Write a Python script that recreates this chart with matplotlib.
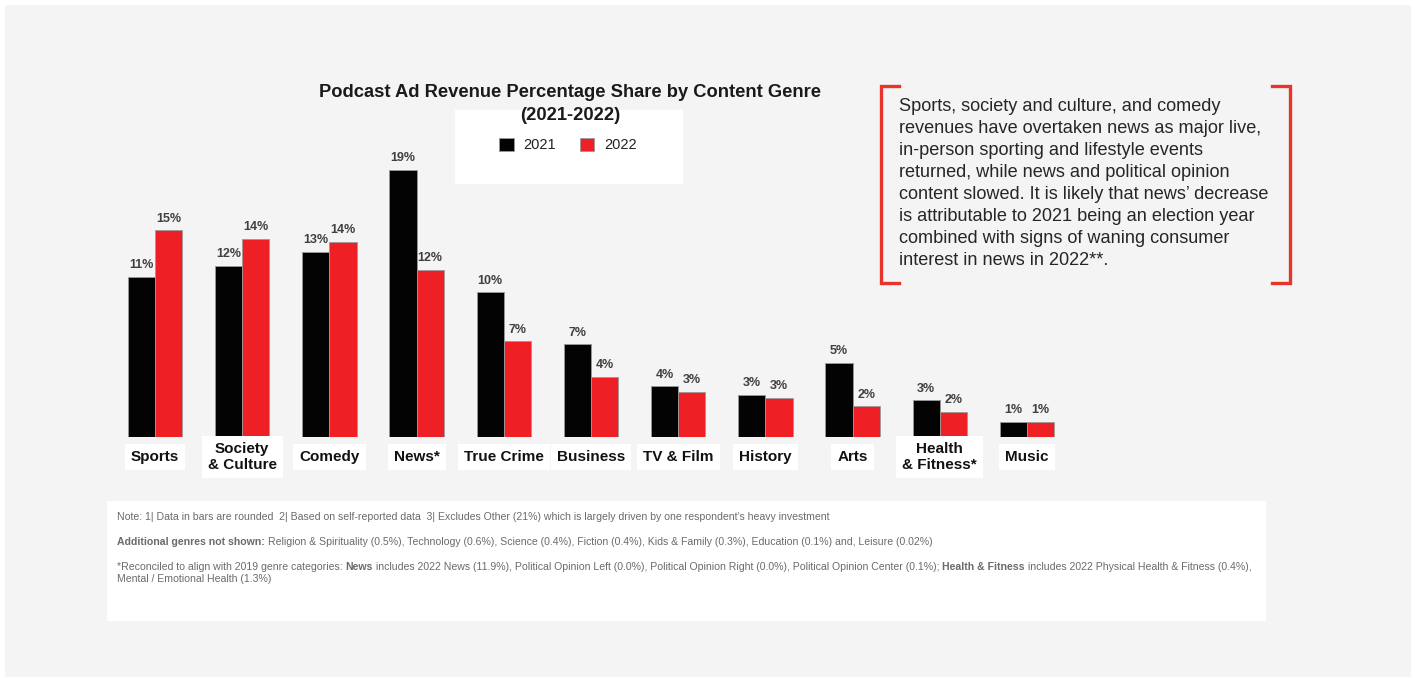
import matplotlib.pyplot as plt
from matplotlib.patches import Rectangle, Patch
from matplotlib.lines import Line2D

plt.rcParams["font.family"] = ["Liberation Sans", "DejaVu Sans"]

# ---------------------------------------------------------------------------
genres = ["Sports", "Society\n& Culture", "Comedy", "News*", "True Crime",
          "Business", "TV & Film", "History", "Arts", "Health\n& Fitness*", "Music"]
share_2021 = [11.4, 12.2, 13.2, 19.0, 10.3, 6.6, 3.6, 3.0, 5.3, 2.6, 1.1]
share_2022 = [14.7, 14.1, 13.9, 11.9, 6.8, 4.3, 3.2, 2.8, 2.2, 1.8, 1.1]
years = ["2021", "2022"]

TITLE = "Podcast Ad Revenue Percentage Share by Content Genre\n(2021-2022)"
CALLOUT = ("Sports, society and culture, and comedy\n"
           "revenues have overtaken news as major live,\n"
           "in-person sporting and lifestyle events\n"
           "returned, while news and political opinion\n"
           "content slowed. It is likely that news\u2019 decrease\n"
           "is attributable to 2021 being an election year\n"
           "combined with signs of waning consumer\n"
           "interest in news in 2022**.")
NOTES = [
    [("Note: 1| Data in bars are rounded  2| Based on self-reported data  3| Excludes Other (21%) "
      "which is largely driven by one respondent\u2019s heavy investment", "normal")],
    [("Additional genres not shown: ", "bold"),
     ("Religion & Spirituality (0.5%), Technology (0.6%), Science (0.4%), Fiction (0.4%), "
      "Kids & Family (0.3%), Education (0.1%) and, Leisure (0.02%)", "normal")],
    [("*Reconciled to align with 2019 genre categories: ", "normal"), ("News", "bold"),
     (" includes 2022 News (11.9%), Political Opinion Left (0.0%), Political Opinion Right (0.0%), "
      "Political Opinion Center (0.1%); ", "normal"), ("Health & Fitness", "bold"),
     (" includes 2022 Physical Health & Fitness (0.4%),", "normal")],
    [("Mental / Emotional Health (1.3%)", "normal")],
]
# ---------------------------------------------------------------------------

W, H = 1415, 678
BLACK, RED = "#030303", "#ee1f25"


def px(x, y):
    """pixel position (from top-left) -> figure fraction"""
    return x / W, 1 - y / H


fig = plt.figure(figsize=(W / 100, H / 100), dpi=100)
fig.patch.set_facecolor("white")
fig.patches.append(Rectangle(px(5, 677), 1406 / W, 672 / H, transform=fig.transFigure,
                             facecolor="#f4f4f4", edgecolor="none", zorder=-2))

# bar axes: x from 100 to 1060 px, baseline at 437 px
ax = fig.add_axes([100 / W, (H - 437) / H, 960 / W, 297 / H])
ax.set_facecolor("none")
ax.set_zorder(2)
step, ppu = 87.2, 14.05
ax.set_xlim((100 - 155) / step, (1060 - 155) / step)
ax.set_ylim(0, 297 / ppu)
ax.axis("off")

bw = 0.313
idx = list(range(len(genres)))
b1 = ax.bar([i - bw / 2 for i in idx], share_2021, bw, color=BLACK,
            edgecolor="#9a9a9a", linewidth=0.6, label=years[0])
b2 = ax.bar([i + bw / 2 for i in idx], share_2022, bw, color=RED,
            edgecolor="#9a9a9a", linewidth=0.6, label=years[1])

for bars, vals in ((b1, share_2021), (b2, share_2022)):
    for rect, v in zip(bars, vals):
        ax.annotate(f"{v:.0f}%", (rect.get_x() + rect.get_width() / 2, v),
                    xytext=(0, 4), textcoords="offset points", ha="center", va="bottom",
                    fontsize=9, fontweight="bold", color="#404040")

for i, g in enumerate(genres):
    ax.text(i, -1.42, g, ha="center", va="center", fontsize=11, fontweight="bold",
            color="#111111", linespacing=1.2, clip_on=False,
            bbox=dict(boxstyle="square,pad=0.4", facecolor="white", edgecolor="none"))

# title + legend panel
fig.patches.append(Rectangle(px(455, 184), 228 / W, 74 / H, transform=fig.transFigure,
                             facecolor="white", edgecolor="none", zorder=1))
fig.text(*px(570, 104), TITLE, ha="center", va="center", fontsize=13.2, fontweight="bold",
         color="#1a1a1a", linespacing=1.5, zorder=3)
handles = [Patch(facecolor=BLACK, edgecolor="#9a9a9a", linewidth=0.6),
           Patch(facecolor=RED, edgecolor="#9a9a9a", linewidth=0.6)]
fig.legend(handles, years, loc="center", bbox_to_anchor=px(568, 145), ncol=2,
           frameon=False, fontsize=10.5, handlelength=1.0, handleheight=1.0,
           handletextpad=0.7, columnspacing=1.6, labelcolor="#222222")

# callout with red brackets
fig.text(*px(899, 98), CALLOUT, ha="left", va="top", fontsize=13.1, color="#262626",
         linespacing=1.38)
bc = "#e8352b"
for xs, ys in (([899, 881, 881, 899], [86, 86, 283, 283]),
               ([1272, 1290, 1290, 1272], [86, 86, 283, 283])):
    fig.lines.append(Line2D([x / W for x in xs], [1 - y / H for y in ys],
                            transform=fig.transFigure, color=bc, linewidth=2.4,
                            solid_joinstyle="miter"))

# notes panel
fig.patches.append(Rectangle(px(107, 621), 1159 / W, 120 / H, transform=fig.transFigure,
                             facecolor="white", edgecolor="none", zorder=1))
renderer = fig.canvas.get_renderer()
for row, y in zip(NOTES, [517, 542, 567, 579]):
    x = 117
    for txt, weight in row:
        t = fig.text(*px(x, y), txt, ha="left", va="center", fontsize=7.6, color="#6b6b6b",
                     fontweight=weight, zorder=3)
        x += t.get_window_extent(renderer).width

fig.savefig("out.png", dpi=100, facecolor=fig.get_facecolor())
